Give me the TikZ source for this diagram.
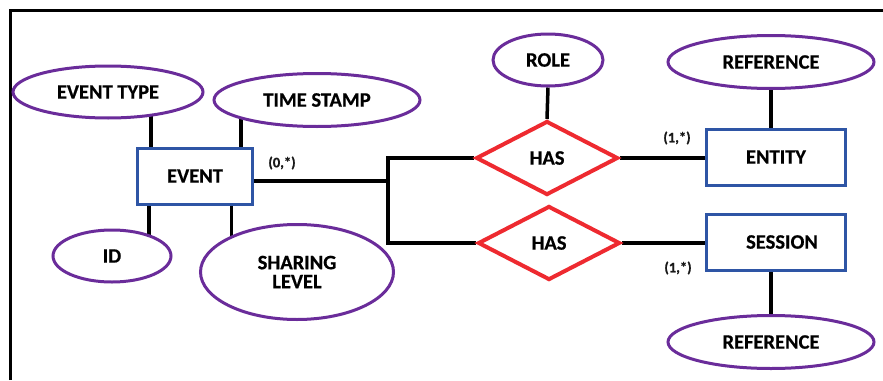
\documentclass[tikz,border=0pt]{standalone}
\usepackage{fontspec}
\setmainfont{Carlito}
\newfontfamily\heavyfont{Carlito}[UprightFont=*-Bold, UprightFeatures={FakeBold=0.6}]
\usetikzlibrary{shapes.geometric,calc,backgrounds}
\definecolor{attrpurple}{HTML}{6A2C9A}
\definecolor{entblue}{HTML}{2E55A5}
\definecolor{relred}{HTML}{EE2A30}
\tikzset{
  erfont/.style={font=\heavyfont\fontsize{20.5}{21}\selectfont, text=black},
  attr/.style={ellipse, draw=attrpurple, line width=3pt, fill=white, inner sep=0pt, erfont},
  entity/.style={rectangle, draw=entblue, line width=3pt, fill=white, inner sep=0pt, erfont},
  rel/.style={diamond, draw=relred, line width=4pt, fill=white, inner sep=0pt, erfont},
  link/.style={draw=black, line width=3.5pt},
  card/.style={font=\heavyfont\fontsize{14.5}{15}\selectfont, text=black!90}
}
\begin{document}
\begin{tikzpicture}[x=1pt,y=-1pt]
\useasboundingbox (0,0) rectangle (883,380);
% outer frame (top and left edges)
\draw[line width=3pt] (10,380) -- (10,10) -- (883,10);

% entities
\node[entity, minimum width=115pt, minimum height=56pt] (event) at (195,176) {EVENT};
\node[entity, minimum width=139pt, minimum height=56pt] (entity) at (776,157) {ENTITY};
\node[entity, minimum width=139pt, minimum height=56pt] (session) at (776,242) {\hspace*{12pt}SESSION};

% relationships
\node[rel, minimum width=142pt, minimum height=74pt] (has1) at (547,158) {HAS};
\node[rel, minimum width=142pt, minimum height=74pt] (has2) at (549,243) {HAS};

% attributes
\node[attr, minimum width=190pt, minimum height=52pt] (etype) at (108,92) {EVENT TYPE};
\node[attr, minimum width=206pt, minimum height=53pt] (tstamp) at (317,100) {TIME STAMP};
\node[attr, minimum width=118pt, minimum height=52pt] (id) at (112,256) {ID};
\node[attr, minimum width=193pt, minimum height=95pt, align=center] (share) at (297,272) {SHARING\\[-2pt]LEVEL};
\node[attr, minimum width=110pt, minimum height=52pt] (role) at (548,60) {ROLE};
\node[attr, minimum width=206pt, minimum height=53pt] (reftop) at (771,62) {REFERENCE};
\node[attr, minimum width=206pt, minimum height=53pt] (refbot) at (771,342) {REFERENCE};

% junction of the two relationship lines
\coordinate (bus) at (388,181);

% cardinalities
\node[card] (c0) at (282,163) {(0,*)};
\node[card] (c1) at (677,138) {(1,*)};
\node[card] (c2) at (678,268) {(1,*)};

\begin{scope}[on background layer]
  % attribute links of EVENT
  \coordinate (eNW) at ($(event.north west)!0.128!(event.north east)$);
  \coordinate (eNE) at ($(event.north west)!0.889!(event.north east)$);
  \coordinate (eSW) at ($(event.south west)!0.111!(event.south east)$);
  \coordinate (eSE) at ($(event.south west)!0.81!(event.south east)$);
  \path[link] (eNW) -- (eNW |- etype.center);
  \path[link] (eNE) -- (eNE |- tstamp.center);
  \path[link] (eSW) -- (eSW |- id.center);
  \path[link] (eSE) -- (eSE |- share.center);
  % EVENT to both relationships
  \path[link] ($(event.east)+(0,5)$) -- (bus);
  \path[link, line join=miter] (has1.west) -| (bus) |- (has2.west);
  % relationships to entities
  \path[link] (has1.east) -- (entity.west |- has1.east);
  \path[link] (has2.east) -- (session.west |- has2.east);
  \path[link] (role.south) -- (has1.north);
  % reference attributes
  \path[link] (reftop.center) -- (reftop.center |- entity.north);
  \path[link] (refbot.center) -- (refbot.center |- session.south);
\end{scope}
\end{tikzpicture}
\end{document}
